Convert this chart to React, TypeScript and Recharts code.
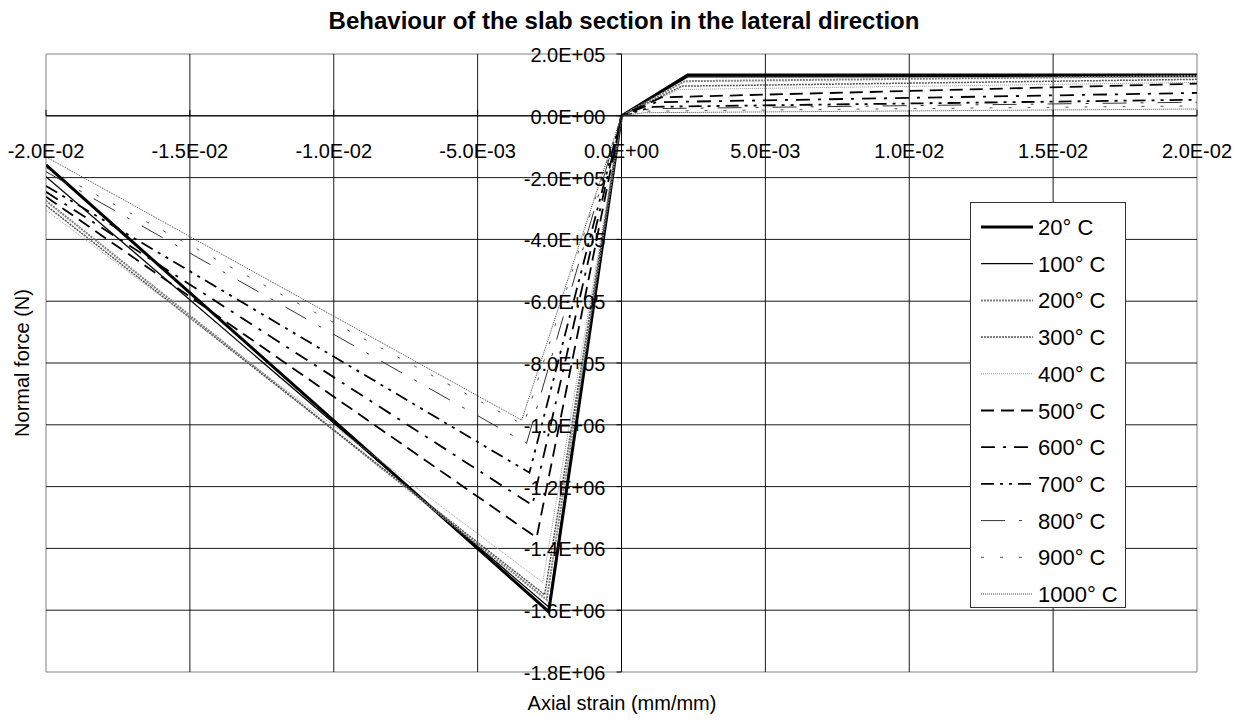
import React from "react";
import {
  LineChart,
  Line,
  XAxis,
  YAxis,
  ReferenceLine,
  ReferenceArea,
  ReferenceDot,
  Legend,
} from "recharts";

const FONT = '"Liberation Sans", Arial, Helvetica, sans-serif';

const STRAIN_TICKS = [-0.02, -0.015, -0.01, -0.005, 0, 0.005, 0.01, 0.015, 0.02];
const FORCE_TICKS = [
  200000, 0, -200000, -400000, -600000, -800000, -1000000, -1200000, -1400000,
  -1600000, -1800000,
];

// [strain, normal force]: start, compression peak, origin, tension yield, end
const C20: [number, number][] = [[-0.02, -159000], [-0.00253, -1605000], [0, 0], [0.0023, 132000], [0.02, 132000]];
const C100: [number, number][] = [[-0.02, -197000], [-0.00253, -1590000], [0, 0], [0.0023, 126000], [0.02, 127000]];
const C200: [number, number][] = [[-0.02, -275000], [-0.0026, -1566000], [0, 0], [0.0022, 112000], [0.02, 129000]];
const C300: [number, number][] = [[-0.02, -290000], [-0.00267, -1550000], [0, 0], [0.0021, 96000], [0.02, 118000]];
const C400: [number, number][] = [[-0.02, -305000], [-0.00274, -1510000], [0, 0], [0.002, 85000], [0.02, 108000]];
const C500: [number, number][] = [[-0.02, -262000], [-0.00295, -1365000], [0, 0], [0.0014, 60000], [0.02, 104000]];
const C600: [number, number][] = [[-0.02, -246000], [-0.0031, -1260000], [0, 0], [0.0012, 44000], [0.02, 74000]];
const C700: [number, number][] = [[-0.02, -227000], [-0.0032, -1155000], [0, 0], [0.0011, 29000], [0.02, 52000]];
const C800: [number, number][] = [[-0.02, -181000], [-0.0033, -1060000], [0, 0], [0.001, 23000], [0.02, 44000]];
const C900: [number, number][] = [[-0.02, -168000], [-0.0034, -1000000], [0, 0], [0.0009, 15000], [0.02, 32000]];
const C1000: [number, number][] = [[-0.02, -133000], [-0.00347, -985000], [0, 0], [0.0008, 10000], [0.02, 22000]];

const SERIES = [
  { name: "20° C", pts: C20, stroke: "#000", width: 3, dash: undefined },
  { name: "100° C", pts: C100, stroke: "#000", width: 1.3, dash: undefined },
  { name: "200° C", pts: C200, stroke: "#808080", width: 2, dash: "2 1" },
  { name: "300° C", pts: C300, stroke: "#555", width: 1.5, dash: "2 1" },
  { name: "400° C", pts: C400, stroke: "#999", width: 1, dash: "1 1" },
  { name: "500° C", pts: C500, stroke: "#000", width: 1.8, dash: "13 7" },
  { name: "600° C", pts: C600, stroke: "#000", width: 1.8, dash: "14 8 3 8" },
  { name: "700° C", pts: C700, stroke: "#000", width: 1.8, dash: "13 6 3 6 3 6" },
  { name: "800° C", pts: C800, stroke: "#333", width: 1, dash: "24 14 3 14" },
  { name: "900° C", pts: C900, stroke: "#555", width: 1, dash: "3 16" },
  { name: "1000° C", pts: C1000, stroke: "#444", width: 1, dash: "1 1" },
];

function sci(v: number) {
  const [m, e] = v.toExponential(1).split("e");
  const n = parseInt(e, 10);
  return `${m}E${n < 0 ? "-" : "+"}${String(Math.abs(n)).padStart(2, "0")}`;
}

const xTickShape = (label: string) => (p: any) => (
  <g>
    <line x1={p.cx} x2={p.cx} y1={p.cy - 6} y2={p.cy} stroke="#000" />
    <text x={p.cx} y={p.cy + 42} textAnchor="middle" fontSize={20} fontFamily={FONT} fill="#000">
      {label}
    </text>
  </g>
);

const yTickShape = (label: string) => (p: any) => (
  <g>
    <line x1={p.cx - 5} x2={p.cx} y1={p.cy} y2={p.cy} stroke="#000" />
    <text x={p.cx - 16} y={p.cy + 8} textAnchor="end" fontSize={20} fontFamily={FONT} fill="#000">
      {label}
    </text>
  </g>
);

const renderLegend = () => (
  <svg width={156} height={406} style={{ display: "block" }}>
    <rect x={0.5} y={0.5} width={155} height={405} fill="#fff" stroke="#333" />
    {SERIES.map((s, i) => {
      const cy = 25 + i * 36.7;
      return (
        <g key={s.name}>
          <line x1={11} x2={63} y1={cy} y2={cy} stroke={s.stroke} strokeWidth={s.width} strokeDasharray={s.dash} />
          <text x={68} y={cy + 8} fontSize={22} fontFamily={FONT} fill="#000">
            {s.name}
          </text>
        </g>
      );
    })}
  </svg>
);

export default function App() {
  const innerX = STRAIN_TICKS.slice(1, -1);
  const innerY = FORCE_TICKS.slice(1, -1);
  return (
    <div style={{ position: "absolute", left: 0, top: 0, width: 1244, height: 726, background: "#fff" }}>
      <LineChart width={1244} height={726} margin={{ top: 54, right: 47, bottom: 54, left: 46 }}>
        <XAxis
          dataKey="x"
          type="number"
          domain={[-0.02, 0.02]}
          ticks={STRAIN_TICKS}
          allowDataOverflow
          height={0}
          tick={false}
          tickLine={false}
          axisLine={false}
        />
        <YAxis
          type="number"
          domain={[-1800000, 200000]}
          ticks={FORCE_TICKS}
          allowDataOverflow
          width={0}
          tick={false}
          tickLine={false}
          axisLine={false}
        />
        {innerX.map((t) => (
          <ReferenceLine key={"gx" + t} x={t} stroke="#000" strokeOpacity={0.9} />
        ))}
        {innerY.map((t) => (
          <ReferenceLine key={"gy" + t} y={t} stroke="#000" strokeOpacity={0.9} />
        ))}
        <ReferenceArea x1={-0.02} x2={0.02} y1={-1800000} y2={200000} fill="none" stroke="#808080" ifOverflow="visible" />
        <ReferenceLine x={0} stroke="#000" />
        <ReferenceLine y={0} stroke="#000" />
        {SERIES.map((s) => (
          <Line
            key={s.name}
            name={s.name}
            data={s.pts.map(([x, y]) => ({ x, y }))}
            dataKey="y"
            type="linear"
            stroke={s.stroke}
            strokeWidth={s.width}
            strokeDasharray={s.dash}
            dot={false}
            activeDot={false}
            isAnimationActive={false}
          />
        ))}
        {STRAIN_TICKS.map((t) => (
          <ReferenceDot key={"x" + t} x={t} y={0} r={0} ifOverflow="visible" shape={xTickShape(sci(t))} />
        ))}
        {FORCE_TICKS.map((t) => (
          <ReferenceDot key={"y" + t} x={0} y={t} r={0} ifOverflow="visible" shape={yTickShape(sci(t))} />
        ))}
        <Legend
          layout="vertical"
          align="center"
          verticalAlign="middle"
          content={renderLegend}
          wrapperStyle={{ left: 970, top: 202, width: 156, height: 406 }}
        />
      </LineChart>
      <svg
        width={1244}
        height={726}
        style={{ position: "absolute", left: 0, top: 0, pointerEvents: "none" }}
      >
        <text x={624} y={29} textAnchor="middle" fontSize={24} fontWeight="bold" fontFamily={FONT} fill="#000">
          Behaviour of the slab section in the lateral direction
        </text>
        <text x={622} y={710} textAnchor="middle" fontSize={20} fontFamily={FONT} fill="#000">
          Axial strain (mm/mm)
        </text>
        <text
          x={0}
          y={0}
          transform="translate(29 363) rotate(-90)"
          textAnchor="middle"
          fontSize={20}
          fontFamily={FONT}
          fill="#000"
        >
          Normal force (N)
        </text>
      </svg>
    </div>
  );
}
